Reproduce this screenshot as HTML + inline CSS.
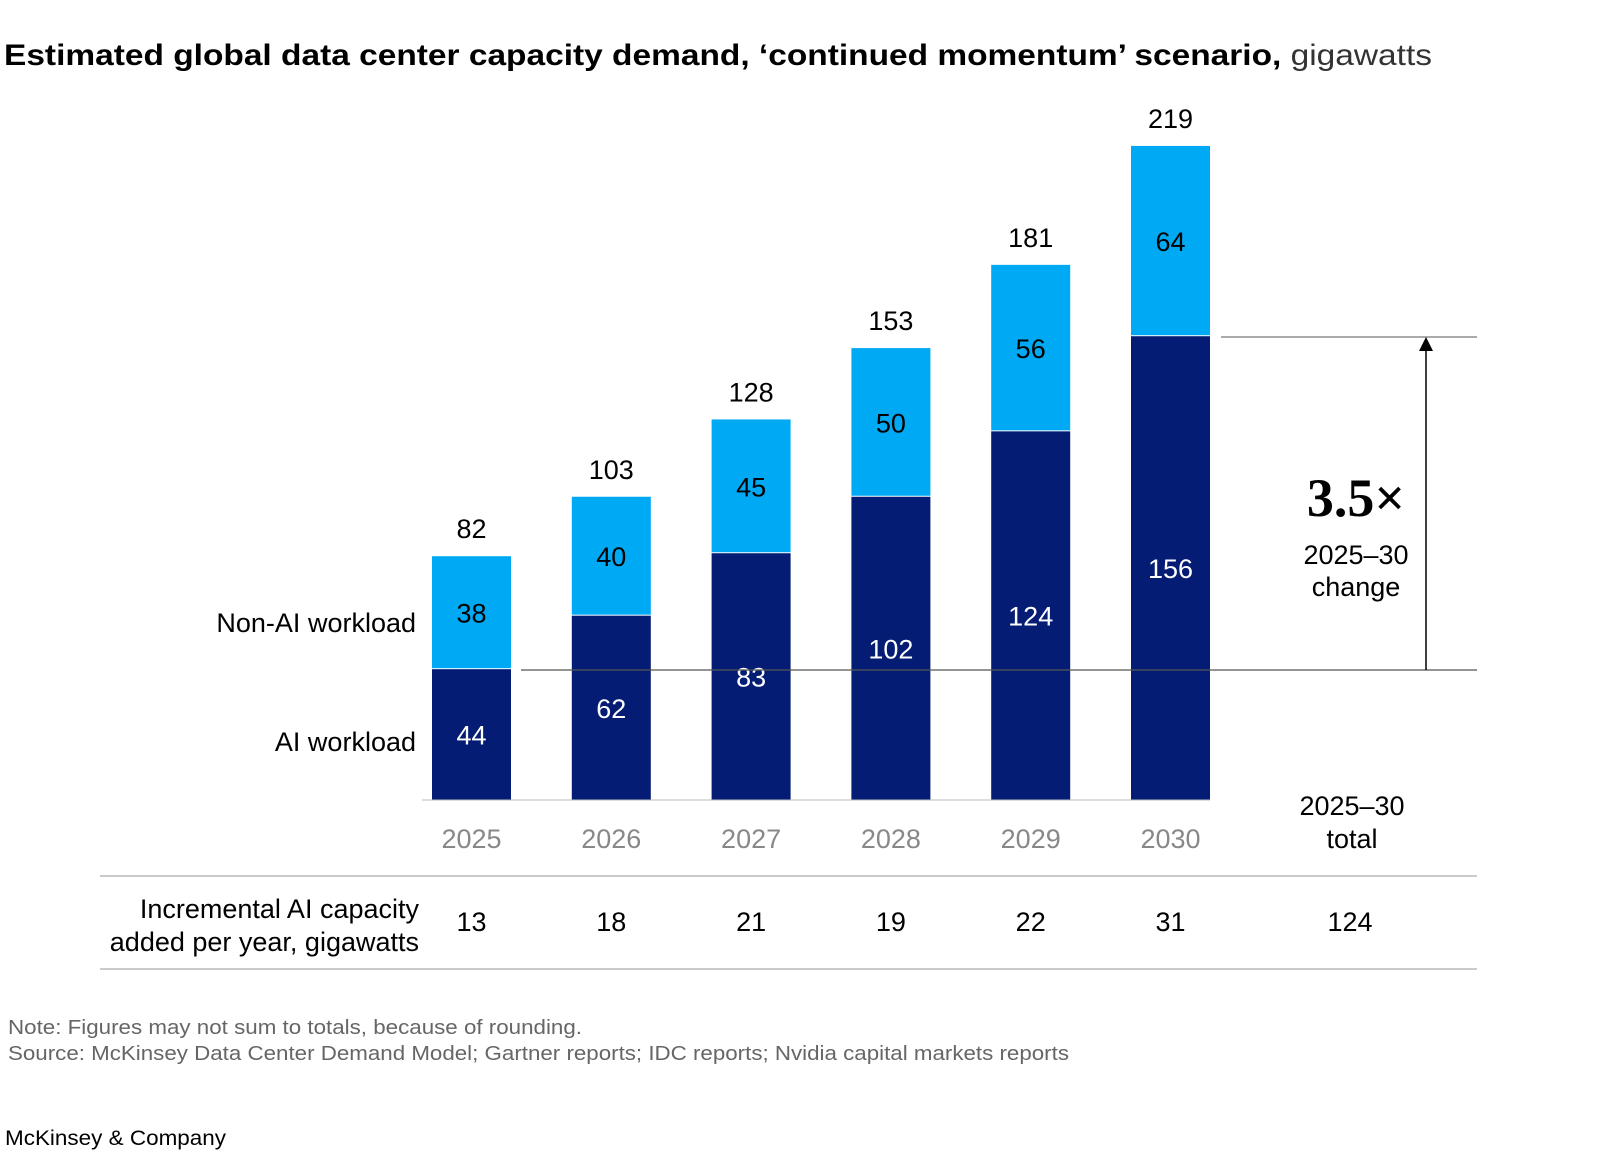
<!DOCTYPE html>
<html><head><meta charset="utf-8"><style>
body{margin:0;background:#fff;}
svg text{font-family:"Liberation Sans",sans-serif;}
</style></head><body>
<svg width="1600" height="1156" viewBox="0 0 1600 1156" xmlns="http://www.w3.org/2000/svg">
<text x="4" y="65" font-size="30" font-weight="bold" fill="#000" textLength="1428" lengthAdjust="spacingAndGlyphs">Estimated global data center capacity demand, ‘continued momentum’ scenario,<tspan font-weight="normal" fill="#333"> gigawatts</tspan></text>
<g id="bars"></g>
<line x1="521" y1="670" x2="1477" y2="670" stroke="#555" stroke-width="1.3"/>
<line x1="1221" y1="337" x2="1477" y2="337" stroke="#777" stroke-width="1.3"/>
<line x1="1426" y1="670" x2="1426" y2="348" stroke="#000" stroke-width="1.5"/>
<polygon points="1426,337 1419,351 1433,351" fill="#000"/>
<text x="1356" y="516" font-size="54" font-weight="bold" text-anchor="middle" style="font-family:'Liberation Serif',serif">3.5×</text>
<text x="1356" y="564" font-size="27" text-anchor="middle">2025–30</text>
<text x="1356" y="596" font-size="27" text-anchor="middle">change</text>
<text x="416" y="632" font-size="27" text-anchor="end">Non-AI workload</text>
<text x="416" y="751" font-size="27" text-anchor="end">AI workload</text>
<text x="1352" y="815" font-size="27" text-anchor="middle">2025–30</text>
<text x="1352" y="848" font-size="27" text-anchor="middle">total</text>
<line x1="100" y1="876" x2="1477" y2="876" stroke="#aaa" stroke-width="1.3"/>
<line x1="100" y1="969" x2="1477" y2="969" stroke="#aaa" stroke-width="1.3"/>
<text x="419" y="918" font-size="27" text-anchor="end">Incremental AI capacity</text>
<text x="419" y="951" font-size="27" text-anchor="end">added per year, gigawatts</text>
<text x="1350" y="931" font-size="27" text-anchor="middle">124</text>
<text x="8" y="1034" font-size="20" fill="#666" textLength="574" lengthAdjust="spacingAndGlyphs">Note: Figures may not sum to totals, because of rounding.</text>
<text x="8" y="1060" font-size="20" fill="#666" textLength="1061" lengthAdjust="spacingAndGlyphs">Source: McKinsey Data Center Demand Model; Gartner reports; IDC reports; Nvidia capital markets reports</text>
<text x="5" y="1145" font-size="21" fill="#000" textLength="221" lengthAdjust="spacingAndGlyphs">McKinsey &amp; Company</text>
</svg>
<script>
const years=["2025","2026","2027","2028","2029","2030"];
const aiValues=[44,62,83,102,124,156];
const nonAiValues=[38,40,45,50,56,64];
const totals=[82,103,128,153,181,219];
const incremental=[13,18,21,19,22,31];
const NS="http://www.w3.org/2000/svg";
const base=800, k=2.973, x0=432, step=139.8, bw=79;
const y=v=>base-v*k;
const xc=i=>x0+i*step+bw/2;
const g=document.getElementById('bars');
function mk(t,a,txt){const e=document.createElementNS(NS,t);for(const q in a)e.setAttribute(q,a[q]);if(txt!==undefined)e.textContent=txt;g.appendChild(e);return e;}
years.forEach((yr,i)=>{
  const x=x0+i*step;
  const a=aiValues[i], n=nonAiValues[i];
  let r=mk('rect',{x:x,y:y(a),width:bw,height:a*k,fill:'#051c74'});
  
  
  r=mk('rect',{x:x,y:y(a+n),width:bw,height:n*k-1,fill:'#00a9f4'});
  
  
  let t=mk('text',{x:xc(i),y:(y(a)+base)/2+10,'font-size':27,'text-anchor':'middle',fill:'#fff'},a);
  
  
  t=mk('text',{x:xc(i),y:(y(a)+y(a+n))/2+10,'font-size':27,'text-anchor':'middle',fill:'#000'},n);
  
  
  t=mk('text',{x:xc(i),y:y(a+n)-18,'font-size':27,'text-anchor':'middle',fill:'#000'},totals[i]);
  
  
  t=mk('text',{x:xc(i),y:848,'font-size':27,'text-anchor':'middle',fill:'#888'},yr);
  
  
  t=mk('text',{x:xc(i),y:931,'font-size':27,'text-anchor':'middle',fill:'#000'},incremental[i]);
  
  
});
const ax=mk('line',{x1:x0-10,y1:base,x2:x0+5*step+bw,y2:base,stroke:'#bbb','stroke-width':1});


</script>
</body></html>
